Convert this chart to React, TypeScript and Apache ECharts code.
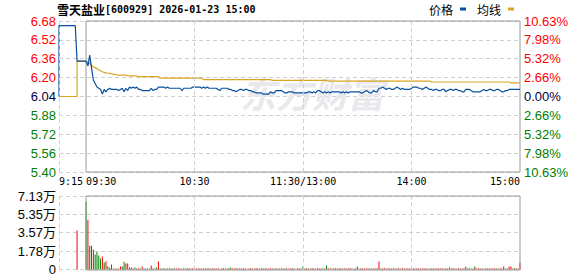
import React, { useEffect, useRef } from 'react';
import * as echarts from 'echarts';

// ---------- data ----------
const stockName = '雪天盐业';
const stockInfo = '[600929] 2026-01-23 15:00';
const prevClose = 6.04;

// minutes counted from 09:15 (09:30 = 15, 11:30 = 135, 13:00 = 135, 15:00 = 255)
const xLabelMinutes = [0, 15, 75, 135, 195, 255];
const xLabelTexts = ['9:15', '09:30', '10:30', '11:30/13:00', '14:00', '15:00'];
const xLeftLabels = [0, 15];
const xCenterLabels = [75, 135, 195];
const xRightLabels = [255];
const verticalGridMinutes = [0, 75, 135, 195];
const sessionStartMinute = 15;

const pctTickLabels = ['10.63%', '7.98%', '5.32%', '2.66%', '0.00%', '2.66%', '5.32%', '7.98%', '10.63%'];
const volTickLabels = ['0', '1.78万', '3.57万', '5.35万', '7.13万'];

// pre-market (call auction)
const preMinutes = [0, 0, 9, 10];
const prePrices = [6.04, 6.64, 6.64, 6.34];
const preAvgMinutes = [0, 10, 10];
const preAvgPrices = [6.04, 6.04, 6.34];
const auctionMinute = 10;
const auctionVolume = 37800;

// main session price, one per minute 09:30..11:30, 13:01..15:00
const prices = [
  6.34, 6.30, 6.39, 6.28, 6.18, 6.15, 6.12, 6.11, 6.10, 6.06,
  6.10, 6.08, 6.10, 6.11, 6.10, 6.10, 6.10, 6.10, 6.09, 6.10,
  6.11, 6.08, 6.11, 6.09, 6.12, 6.11, 6.12, 6.11, 6.12, 6.10,
  6.10, 6.09, 6.09, 6.09, 6.09, 6.09, 6.11, 6.09, 6.10, 6.10,
  6.12, 6.12, 6.12, 6.12, 6.11, 6.12, 6.11, 6.11, 6.11, 6.11,
  6.11, 6.11, 6.11, 6.09, 6.11, 6.11, 6.11, 6.11, 6.11, 6.12,
  6.12, 6.12, 6.12, 6.12, 6.11, 6.12, 6.11, 6.12, 6.11, 6.11,
  6.11, 6.11, 6.11, 6.10, 6.09, 6.11, 6.11, 6.11, 6.11, 6.10,
  6.10, 6.09, 6.09, 6.08, 6.09, 6.10, 6.10, 6.09, 6.10, 6.10,
  6.09, 6.09, 6.08, 6.08, 6.07, 6.07, 6.07, 6.07, 6.06, 6.06,
  6.06, 6.06, 6.08, 6.07, 6.07, 6.09, 6.09, 6.09, 6.09, 6.08,
  6.07, 6.07, 6.08, 6.08, 6.08, 6.07, 6.07, 6.07, 6.07, 6.07,
  6.07, 6.07, 6.07, 6.08, 6.08, 6.07, 6.08, 6.07, 6.09, 6.09,
  6.08, 6.07, 6.08, 6.07, 6.08, 6.07, 6.08, 6.08, 6.08, 6.08,
  6.08, 6.07, 6.08, 6.07, 6.08, 6.07, 6.08, 6.08, 6.08, 6.08,
  6.08, 6.08, 6.07, 6.07, 6.08, 6.09, 6.08, 6.07, 6.07, 6.09,
  6.08, 6.08, 6.11, 6.11, 6.12, 6.11, 6.10, 6.11, 6.11, 6.10,
  6.10, 6.11, 6.12, 6.11, 6.10, 6.11, 6.10, 6.10, 6.10, 6.10,
  6.11, 6.12, 6.12, 6.12, 6.11, 6.11, 6.10, 6.11, 6.12, 6.11,
  6.10, 6.10, 6.09, 6.10, 6.10, 6.09, 6.09, 6.10, 6.10, 6.08,
  6.09, 6.10, 6.10, 6.09, 6.10, 6.10, 6.09, 6.09, 6.08, 6.08,
  6.10, 6.10, 6.10, 6.09, 6.08, 6.08, 6.08, 6.08, 6.08, 6.09,
  6.10, 6.09, 6.09, 6.10, 6.10, 6.09, 6.09, 6.10, 6.10, 6.09,
  6.08, 6.08, 6.09, 6.09, 6.10, 6.10, 6.10, 6.10, 6.10, 6.10,
  6.10,
];

const avgPrices = [
  6.340, 6.335, 6.320, 6.305, 6.290, 6.283, 6.276, 6.266, 6.258, 6.250,
  6.244, 6.240, 6.237, 6.236, 6.233, 6.230, 6.227, 6.222, 6.222, 6.222,
  6.222, 6.222, 6.222, 6.214, 6.214, 6.214, 6.214, 6.214, 6.214, 6.208,
  6.208, 6.208, 6.208, 6.208, 6.208, 6.208, 6.208, 6.208, 6.208, 6.208,
  6.208, 6.195, 6.195, 6.195, 6.195, 6.195, 6.195, 6.195, 6.195, 6.195,
  6.195, 6.195, 6.195, 6.195, 6.195, 6.195, 6.195, 6.195, 6.195, 6.195,
  6.195, 6.195, 6.195, 6.195, 6.195, 6.183, 6.183, 6.183, 6.183, 6.183,
  6.183, 6.183, 6.183, 6.183, 6.183, 6.183, 6.183, 6.183, 6.183, 6.183,
  6.183, 6.183, 6.183, 6.183, 6.183, 6.183, 6.183, 6.183, 6.183, 6.183,
  6.183, 6.183, 6.183, 6.183, 6.183, 6.183, 6.183, 6.183, 6.183, 6.183,
  6.183, 6.183, 6.183, 6.177, 6.177, 6.177, 6.177, 6.177, 6.177, 6.177,
  6.177, 6.177, 6.177, 6.177, 6.177, 6.177, 6.177, 6.177, 6.177, 6.177,
  6.177, 6.177, 6.177, 6.177, 6.177, 6.177, 6.177, 6.177, 6.177, 6.177,
  6.177, 6.177, 6.177, 6.177, 6.171, 6.171, 6.171, 6.171, 6.171, 6.171,
  6.171, 6.171, 6.171, 6.171, 6.171, 6.171, 6.171, 6.171, 6.171, 6.171,
  6.171, 6.171, 6.171, 6.171, 6.171, 6.171, 6.171, 6.171, 6.171, 6.171,
  6.171, 6.171, 6.171, 6.171, 6.171, 6.171, 6.171, 6.171, 6.171, 6.171,
  6.171, 6.171, 6.171, 6.171, 6.171, 6.171, 6.171, 6.171, 6.171, 6.171,
  6.171, 6.171, 6.171, 6.171, 6.171, 6.171, 6.171, 6.171, 6.171, 6.171,
  6.171, 6.163, 6.163, 6.163, 6.163, 6.163, 6.163, 6.163, 6.163, 6.163,
  6.163, 6.163, 6.163, 6.163, 6.163, 6.163, 6.163, 6.163, 6.163, 6.163,
  6.163, 6.163, 6.163, 6.163, 6.163, 6.163, 6.163, 6.163, 6.163, 6.163,
  6.163, 6.163, 6.163, 6.163, 6.163, 6.163, 6.163, 6.163, 6.163, 6.163,
  6.163, 6.163, 6.163, 6.163, 6.163, 6.155, 6.155, 6.155, 6.155, 6.155,
  6.155,
];

const volumes = [
  65800, 48200, 23100, 23100, 19300, 14500, 17200, 13600, 10600, 12500,
  6700, 7900, 3100, 1600, 4800, 1000, 1000, 700, 1000, 2900,
  2900, 7400, 5800, 5800, 1900, 1900, 1000, 1900, 1000, 1000,
  1000, 2900, 1000, 1000, 1000, 1000, 3900, 1000, 1000, 1900,
  7700, 1000, 900, 1100, 800, 1000, 1200, 900, 1000, 1100,
  900, 1100, 1000, 800, 1200, 1000, 900, 1100, 1000, 1200,
  1000, 900, 1100, 1000, 800, 1200, 1000, 900, 1100, 1000,
  1100, 900, 1000, 1200, 800, 1000, 1100, 900, 1000, 1100,
  1900, 1000, 900, 1100, 1000, 1200, 900, 1000, 1100, 800,
  1000, 1100, 900, 1000, 1200, 1000, 900, 1100, 1000, 900,
  1100, 1000, 1200, 900, 1000, 1100, 800, 1000, 1200, 900,
  1000, 1100, 900, 1000, 1200, 1000, 800, 1100, 1000, 900,
  2900, 1000, 1100, 900, 1000, 1200, 1000, 900, 1100, 1000,
  900, 1100, 1000, 3900, 1000, 1200, 900, 1000, 1100, 1000,
  1100, 900, 1000, 1200, 1000, 900, 1100, 1000, 800, 1000,
  2900, 1000, 1100, 900, 1000, 1200, 1000, 900, 1100, 1000,
  1000, 1100, 7700, 1000, 900, 1100, 1000, 1200, 900, 1000,
  1100, 1000, 900, 1200, 1000, 1100, 900, 1000, 1100, 1000,
  900, 1100, 1000, 1200, 1000, 900, 1100, 1000, 1200, 1000,
  1000, 900, 1100, 1000, 1200, 1000, 900, 1100, 1000, 1000,
  900, 1900, 1000, 1100, 900, 1000, 1200, 1000, 900, 1100,
  2900, 1000, 1100, 900, 1000, 2900, 1000, 1100, 1000, 900,
  1000, 1100, 900, 1000, 1200, 1000, 1100, 900, 1000, 1100,
  1000, 2900, 900, 1000, 2900, 2900, 1000, 1100, 900, 1000,
  6700,
];

// R = up minute (red bar), G = down minute (green bar)
const volumeDirections = (
  'GRGGRGGGGR' + 'GRGRRGRGRR' + 'GGRRRGRGRR' + 'GRGGGRRRGG' + 'RGRGRGGRRG' +
  'RRGRGRRGRR' + 'GRRGRRGRGR' + 'RGRRGRGRRG' + 'GRRGRRGRRG' + 'RRGRRGRGRR' +
  'GRRGRRGRGR' + 'RGRRGRRGRR' + 'GRGRRGRRGR' + 'RGRGRRGRRG' + 'RRGRRGRRGR' +
  'GRRGRRGRRR' + 'RRRGRRGRRG' + 'RRGRRRGRRR' + 'RGRRGRRRGR' + 'RRGRRRGRRG' +
  'RRGRRRGRRR' + 'GRRGRGRRRG' + 'RRRGRRRGRR' + 'RGRRRRGRGR' + 'R'
).split('');

// ---------- styles ----------
const RED = '#ff0000';
const GREEN = '#008000';
const NEUTRAL = '#000040';
const PRICE_BLUE = '#0a4f9e';
const AVG_GOLD = '#daa520';
const GRID_DASH = '#cfcfcf';
const FRAME = '#999999';
const CJK = '"Noto Sans CJK SC", sans-serif';
const NUM = '"Liberation Sans", "Noto Sans CJK SC", sans-serif';
const MONO = '"DejaVu Sans Mono", monospace';

export default function App() {
  const ref = useRef<HTMLDivElement>(null);

  useEffect(() => {
    if (!ref.current) return;
    const chart = echarts.init(ref.current, undefined, { renderer: 'svg' });

    const priceData = [
      ...preMinutes.map((m, i) => [m, prePrices[i]]),
      ...prices.map((p, i) => [sessionStartMinute + i, p]),
    ];
    const avgData = [
      ...preAvgMinutes.map((m, i) => [m, preAvgPrices[i]]),
      ...avgPrices.map((p, i) => [sessionStartMinute + i, p]),
    ];
    const volData = [
      { value: [auctionMinute, auctionVolume], itemStyle: { color: RED } },
      ...volumes.map((v, i) => ({
        value: [sessionStartMinute + i, v],
        itemStyle: { color: volumeDirections[i] === 'R' ? RED : GREEN },
      })),
    ];

    const labelFor = (allowed: number[]) => (v: number) => {
      const m = Math.round(v);
      const k = xLabelMinutes.indexOf(m);
      return k >= 0 && allowed.includes(m) ? xLabelTexts[k] : '';
    };

    const xBase = {
      type: 'value',
      min: 0,
      max: 255,
      interval: 15,
      position: 'bottom',
      axisLine: { show: false },
      axisTick: { show: false },
      splitLine: { show: false },
    };
    const xLabelStyle = {
      margin: 4,
      fontSize: 10,
      fontFamily: MONO,
      color: '#000',
      showMinLabel: true,
      showMaxLabel: true,
    };

    const vLines = {
      silent: true,
      symbol: 'none',
      label: { show: false },
      lineStyle: { type: [4, 3], color: GRID_DASH, width: 1 },
      data: verticalGridMinutes.map((m) => ({ xAxis: m })),
    };

    const priceColor = (v: number) =>
      Math.abs(v - prevClose) < 1e-6 ? NEUTRAL : v > prevClose ? RED : GREEN;

    chart.setOption({
      animation: false,
      textStyle: { fontFamily: NUM },
      title: {
        left: 57,
        top: 3,
        padding: 0,
        text: `{a|${stockName}}{b|${stockInfo}}`,
        textStyle: {
          rich: {
            a: { fontFamily: CJK, fontSize: 12, color: '#000' },
            b: { fontFamily: MONO, fontSize: 10, color: '#000' },
          },
        },
      },
      legend: {
        data: ['价格', '均线'],
        right: 64,
        top: 3,
        padding: 0,
        align: 'right',
        icon: 'rect',
        itemWidth: 6,
        itemHeight: 3,
        itemGap: 11,
        textStyle: { fontFamily: CJK, fontSize: 12, color: '#000', padding: [0, 2, 0, 0] },
      },
      graphic: [
        {
          type: 'text',
          left: 240,
          top: 74,
          z: 1,
          silent: true,
          style: {
            text: '东方财富',
            fontFamily: CJK,
            fontSize: 36,
            fontWeight: 'bold',
            fontStyle: 'italic',
            fill: '#e9e9ed',
          },
        },
      ],
      grid: [
        { left: 59, right: 58, top: 21, height: 151, show: false },
        { left: 59, right: 58, top: 196, height: 74, show: false },
        { left: 86, right: 58, top: 21, height: 151, show: true, borderColor: FRAME, borderWidth: 1, backgroundColor: 'transparent', z: 3 },
        { left: 86, right: 58, top: 196, height: 74, show: true, borderColor: FRAME, borderWidth: 1, backgroundColor: 'transparent', z: 3 },
      ],
      xAxis: [
        { ...xBase, gridIndex: 0, axisLabel: { ...xLabelStyle, align: 'center', formatter: labelFor(xCenterLabels) } },
        { ...xBase, gridIndex: 0, axisLabel: { ...xLabelStyle, align: 'left', formatter: labelFor(xLeftLabels) } },
        { ...xBase, gridIndex: 0, axisLabel: { ...xLabelStyle, align: 'right', formatter: labelFor(xRightLabels) } },
        { ...xBase, gridIndex: 1, axisLabel: { show: false } },
        { type: 'value', gridIndex: 2, min: 0, max: 1, show: false },
        { type: 'value', gridIndex: 3, min: 0, max: 1, show: false },
      ],
      yAxis: [
        {
          type: 'value',
          gridIndex: 0,
          position: 'left',
          min: 5.4,
          max: 6.68,
          interval: 0.16,
          axisLine: { show: false },
          axisTick: { show: false },
          splitLine: { show: true, lineStyle: { type: [4, 3], color: GRID_DASH } },
          axisLabel: {
            margin: 3,
            fontSize: 13,
            fontFamily: NUM,
            formatter: (v: number) => v.toFixed(2),
            color: (v: any) => priceColor(Number(v)),
          },
        },
        {
          type: 'value',
          gridIndex: 0,
          position: 'right',
          min: 5.4,
          max: 6.68,
          interval: 0.16,
          axisLine: { show: false },
          axisTick: { show: false },
          splitLine: { show: false },
          axisLabel: {
            margin: 4,
            fontSize: 13,
            fontFamily: NUM,
            formatter: (v: number) => pctTickLabels[Math.round((v - 5.4) / 0.16)] ?? '',
            color: (v: any) => priceColor(Number(v)),
          },
        },
        {
          type: 'value',
          gridIndex: 1,
          position: 'left',
          min: 0,
          max: 71300,
          interval: 17825,
          axisLine: { show: false },
          axisTick: { show: false },
          splitLine: { show: true, lineStyle: { type: [4, 3], color: GRID_DASH } },
          axisLabel: {
            margin: 3,
            fontSize: 13,
            fontFamily: NUM,
            color: '#000',
            formatter: (v: number) => volTickLabels[Math.round(v / 17825)] ?? '',
          },
        },
        { type: 'value', gridIndex: 2, min: 0, max: 1, show: false },
        { type: 'value', gridIndex: 3, min: 0, max: 1, show: false },
      ],
      series: [
        {
          name: '均线',
          type: 'line',
          xAxisIndex: 0,
          yAxisIndex: 0,
          data: avgData,
          showSymbol: false,
          symbol: 'none',
          lineStyle: { color: AVG_GOLD, width: 1.2 },
          itemStyle: { color: AVG_GOLD },
          markLine: vLines,
        },
        {
          name: '价格',
          type: 'line',
          xAxisIndex: 0,
          yAxisIndex: 0,
          data: priceData,
          showSymbol: false,
          symbol: 'none',
          lineStyle: { color: PRICE_BLUE, width: 1.2 },
          itemStyle: { color: PRICE_BLUE },
        },
        {
          name: '成交量',
          type: 'bar',
          xAxisIndex: 3,
          yAxisIndex: 2,
          data: volData,
          barWidth: 1,
          markLine: vLines,
        },
      ],
    });

    return () => chart.dispose();
  }, []);

  return (
    <div
      ref={ref}
      style={{ position: 'fixed', left: 0, top: 0, width: 578, height: 276, background: '#fff' }}
    />
  );
}
